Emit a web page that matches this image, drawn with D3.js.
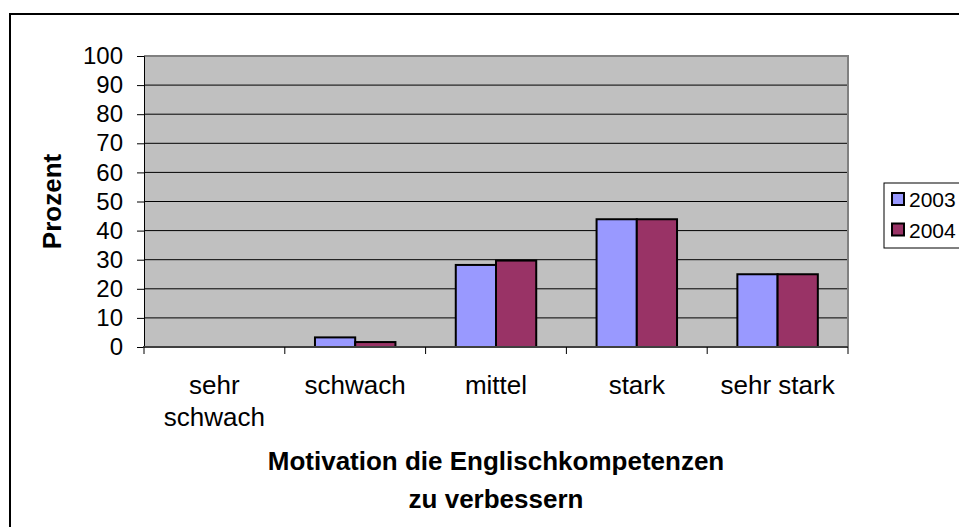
<!DOCTYPE html>
<html>
<head>
<meta charset="utf-8">
<script src="https://cdn.jsdelivr.net/npm/d3@7.9.0/dist/d3.min.js"></script>
<style>
  html, body { margin: 0; padding: 0; background: #fff; }
  svg { display: block; font-family: 'Liberation Sans', Arial, sans-serif; }
</style>
</head>
<body>
<svg id="chart" width="959" height="527"></svg>
<script>
const categories = ['sehr schwach', 'schwach', 'mittel', 'stark', 'sehr stark'];
const seriesNames = ['2003', '2004'];
const values2003 = [0, 3.3, 28.2, 43.9, 25];
const values2004 = [0, 1.7, 29.7, 43.9, 25];
const yTicks = [0, 10, 20, 30, 40, 50, 60, 70, 80, 90, 100];
const seriesColors = ['#9999ff', '#993366'];

const svg = d3.select('#chart');

// outer chart frame, clipped on the right and bottom like the original
svg.append('rect')
  .attr('x', 10).attr('y', 14)
  .attr('width', 1000).attr('height', 600)
  .attr('fill', '#fff')
  .attr('stroke', '#000')
  .attr('stroke-width', 2);

const plot = { left: 144, top: 56, right: 848, bottom: 347 };

const x = d3.scaleBand()
  .domain(categories)
  .range([plot.left, plot.right]);

// Excel gap width 150% -> two bars plus 1.5 bar widths of gap per category
const barW = x.bandwidth() / 3.5;
const x1 = d3.scaleBand()
  .domain(seriesNames)
  .range([x.bandwidth() / 2 - barW, x.bandwidth() / 2 + barW]);

const y = d3.scaleLinear()
  .domain([0, 100])
  .range([plot.bottom, plot.top]);

svg.append('rect')
  .attr('x', plot.left).attr('y', plot.top)
  .attr('width', plot.right - plot.left)
  .attr('height', plot.bottom - plot.top)
  .attr('fill', '#c0c0c0');

// gridlines
svg.append('g')
  .selectAll('line')
  .data(yTicks.filter((d) => d > 0 && d < 100))
  .join('line')
  .attr('x1', plot.left).attr('x2', plot.right)
  .attr('y1', (d) => y(d)).attr('y2', (d) => y(d))
  .attr('stroke', '#000')
  .attr('stroke-width', 1);

// plot border (top / right)
svg.append('path')
  .attr('d', `M${plot.left},${plot.top}H${plot.right}V${plot.bottom}`)
  .attr('fill', 'none')
  .attr('stroke', '#808080')
  .attr('stroke-width', 2);

// bars
const rows = categories.map((c, i) => ({ cat: c, vals: [values2003[i], values2004[i]] }));
const groups = svg.append('g')
  .selectAll('g')
  .data(rows)
  .join('g')
  .attr('transform', (d) => `translate(${x(d.cat)},0)`);

groups.selectAll('rect')
  .data((d) => d.vals.map((v, j) => ({ v, s: seriesNames[j], j })).filter((e) => e.v > 0))
  .join('rect')
  .attr('x', (e) => x1(e.s))
  .attr('y', (e) => y(e.v))
  .attr('width', x1.bandwidth())
  .attr('height', (e) => y(0) - y(e.v))
  .attr('fill', (e) => seriesColors[e.j])
  .attr('stroke', '#000')
  .attr('stroke-width', 2);

// y axis
const yAxis = d3.axisLeft(y)
  .tickValues(yTicks)
  .tickSize(7)
  .tickPadding(14);

svg.append('g')
  .attr('transform', `translate(${plot.left},0)`)
  .call(yAxis)
  .call((g) => g.select('.domain').attr('stroke', '#000').attr('stroke-width', 1))
  .call((g) => g.selectAll('.tick line').attr('stroke', '#000'))
  .call((g) => g.selectAll('.tick text')
    .attr('font-size', 24)
    .attr('fill', '#000')
    .attr('font-family', "'Liberation Sans', Arial, sans-serif"));

// x axis line and boundary ticks
svg.append('line')
  .attr('x1', plot.left - 1).attr('x2', plot.right)
  .attr('y1', plot.bottom).attr('y2', plot.bottom)
  .attr('stroke', '#404040')
  .attr('stroke-width', 2);

const boundaries = categories.map((c) => x(c)).concat([x.range()[1]]);
svg.append('g')
  .selectAll('line')
  .data(boundaries)
  .join('line')
  .attr('x1', (d) => d).attr('x2', (d) => d)
  .attr('y1', plot.bottom).attr('y2', plot.bottom + 7)
  .attr('stroke', '#000');

// category labels, wrapped when wider than the band
const catLabels = svg.append('g')
  .attr('font-size', 26)
  .attr('text-anchor', 'middle')
  .attr('fill', '#000');

function wrapLabel(text, width) {
  const probe = catLabels.append('text').attr('visibility', 'hidden');
  const words = text.split(' ');
  const lines = [];
  let line = [];
  for (const w of words) {
    line.push(w);
    probe.text(line.join(' '));
    if (probe.node().getComputedTextLength() > width && line.length > 1) {
      line.pop();
      lines.push(line.join(' '));
      line = [w];
    }
  }
  lines.push(line.join(' '));
  probe.remove();
  return lines;
}

categories.forEach((c) => {
  const lines = wrapLabel(c, x.bandwidth() - 8);
  const t = catLabels.append('text')
    .attr('x', x(c) + x.bandwidth() / 2)
    .attr('y', 394);
  lines.forEach((l, i) => {
    t.append('tspan')
      .attr('x', x(c) + x.bandwidth() / 2)
      .attr('dy', i === 0 ? 0 : 32)
      .text(l);
  });
});

// axis titles
svg.append('text')
  .attr('transform', `translate(61,${(plot.top + plot.bottom) / 2}) rotate(-90)`)
  .attr('text-anchor', 'middle')
  .attr('font-size', 26)
  .attr('font-weight', 'bold')
  .text('Prozent');

const xTitle = svg.append('text')
  .attr('text-anchor', 'middle')
  .attr('font-size', 26)
  .attr('font-weight', 'bold');
['Motivation die Englischkompetenzen', 'zu verbessern'].forEach((l, i) => {
  xTitle.append('tspan')
    .attr('x', (plot.left + plot.right) / 2)
    .attr('y', 470 + i * 38)
    .text(l);
});

// legend
const legend = svg.append('g');
legend.append('rect')
  .attr('x', 884).attr('y', 183)
  .attr('width', 100).attr('height', 65)
  .attr('fill', '#fff')
  .attr('stroke', '#000')
  .attr('stroke-width', 1);

seriesNames.forEach((s, i) => {
  legend.append('rect')
    .attr('x', 892).attr('y', 193 + i * 30.5)
    .attr('width', 12).attr('height', 12)
    .attr('fill', seriesColors[i])
    .attr('stroke', '#000')
    .attr('stroke-width', 2);
  legend.append('text')
    .attr('x', 909).attr('y', 207 + i * 30.5)
    .attr('font-size', 21)
    .text(s);
});
</script>
</body>
</html>
